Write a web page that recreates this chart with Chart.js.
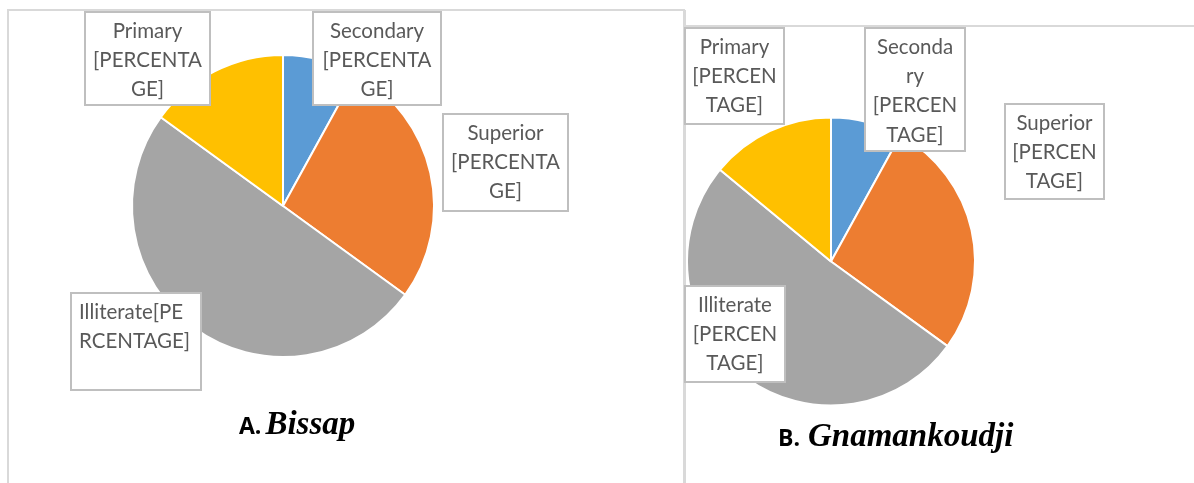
<!DOCTYPE html>
<html>
<head>
<meta charset="utf-8">
<script src="https://cdn.jsdelivr.net/npm/chart.js@4.4.1/dist/chart.umd.min.js"></script>
<style>
  body { margin: 0; width: 1194px; height: 483px; overflow: hidden; background: #fff; position: relative; }
  .panel { position: absolute; box-sizing: border-box; }
  #panelA { left: 7px; top: 9px; width: 678px; height: 480px; border: 2px solid #d9d9d9; border-bottom: none; }
  #panelB { left: 685px; top: 25px; width: 509px; height: 2px; background: #d9d9d9; }
  canvas { position: absolute; top: 0; }
  #chartA { left: 0; }
  #chartB { left: 684px; }
  .title { position: absolute; white-space: nowrap; line-height: 40px; }
  .title .tag { font-family: "Open Sans", sans-serif; font-weight: bold; font-size: 23px; color: #000; }
  .title .name { font-family: "Liberation Serif", serif; font-weight: bold; font-style: italic; font-size: 33px; color: #000; margin-left: 4px; }
</style>
</head>
<body>
<div class="panel" id="panelA"></div>
<div class="panel" id="panelB"></div>
<div style="position:absolute;left:684px;top:10px;width:2px;height:473px;background:#d9d9d9"></div>
<canvas id="chartA" width="684" height="483"></canvas>
<canvas id="chartB" width="510" height="483"></canvas>
<div class="title" style="left:239px;top:403px"><span class="tag">A.</span><span class="name">Bissap</span></div>
<div class="title" style="left:778px;top:415px"><span class="tag">B.</span><span class="name" style="margin-left:8px">Gnamankoudji</span></div>

<script>
const categories = ["Secondary", "Superior", "Illiterate", "Primary"];
const colors = ["#5b9bd5", "#ed7d31", "#a5a5a5", "#ffc000"];

const bissapValues = [8, 27, 50, 15];
const gnamankoudjiValues = [8, 27, 51, 14];

// label text, already broken into lines as in the reference boxes
const bissapLabels = [
  ["Secondary", "[PERCENTA", "GE]"],
  ["Superior", "[PERCENTA", "GE]"],
  ["Illiterate[PE", "RCENTAGE]"],
  ["Primary", "[PERCENTA", "GE]"],
];
const gnamankoudjiLabels = [
  ["Seconda", "ry", "[PERCEN", "TAGE]"],
  ["Superior", "[PERCEN", "TAGE]"],
  ["Illiterate", "[PERCEN", "TAGE]"],
  ["Primary", "[PERCEN", "TAGE]"],
];

// box placement relative to the pie centre (px): dx, dy of box centre, width, height, align
const bissapBoxes = [
  { dx: 94, dy: -148, w: 128, h: 93, align: "center" },
  { dx: 222, dy: -44, w: 125, h: 97, align: "center" },
  { dx: -147, dy: 135, w: 130, h: 97, align: "left" },
  { dx: -136, dy: -148, w: 125, h: 93, align: "center" },
];
const gnamankoudjiBoxes = [
  { dx: 84, dy: -172, w: 100, h: 123, align: "center" },
  { dx: 223, dy: -110, w: 99, h: 95, align: "center" },
  { dx: -96, dy: 72, w: 100, h: 96, align: "center" },
  { dx: -97, dy: -186, w: 99, h: 96, align: "center" },
];

const boxLabels = {
  id: "boxLabels",
  afterDatasetsDraw(chart, args, opts) {
    const ctx = chart.ctx;
    const arc = chart.getDatasetMeta(0).data[0];
    const cx = arc.x, cy = arc.y;
    ctx.save();
    ctx.font = '20.5px Lato, sans-serif';
    ctx.textBaseline = "middle";
    opts.boxes.forEach((b, i) => {
      const left = Math.round(cx + b.dx - b.w / 2);
      const top = Math.round(cy + b.dy - b.h / 2);
      ctx.fillStyle = "#fff";
      ctx.fillRect(left, top, b.w, b.h);
      ctx.strokeStyle = "#bfbfbf";
      ctx.lineWidth = 2;
      ctx.strokeRect(left, top, b.w, b.h);
      ctx.fillStyle = "#595959";
      ctx.textAlign = b.align;
      const x = b.align === "left" ? left + 8 : left + b.w / 2;
      opts.lines[i].forEach((line, j) => {
        ctx.fillText(line, x, top + 19 + j * 29.3);
      });
    });
    ctx.restore();
  },
};

const renderPie = ({ id, values, lines, boxes, padding }) => {
  new Chart(id, {
    type: "pie",
    data: {
      labels: [...categories],
      datasets: [{
        data: [...values],
        backgroundColor: [...colors],
        borderColor: "#fff",
        borderWidth: 2,
      }],
    },
    options: {
      responsive: false,
      animation: false,
      layout: { padding },
      plugins: {
        legend: { display: false },
        tooltip: { enabled: false },
        boxLabels: { lines, boxes },
      },
    },
    plugins: [boxLabels],
  });
};

renderPie({
  id: "chartA",
  values: bissapValues,
  lines: bissapLabels,
  boxes: bissapBoxes,
  padding: { left: 131, right: 249, top: 54, bottom: 125 },
});

renderPie({
  id: "chartB",
  values: gnamankoudjiValues,
  lines: gnamankoudjiLabels,
  boxes: gnamankoudjiBoxes,
  padding: { left: 2, right: 218, top: 116, bottom: 76 },
});
</script>
</body>
</html>
